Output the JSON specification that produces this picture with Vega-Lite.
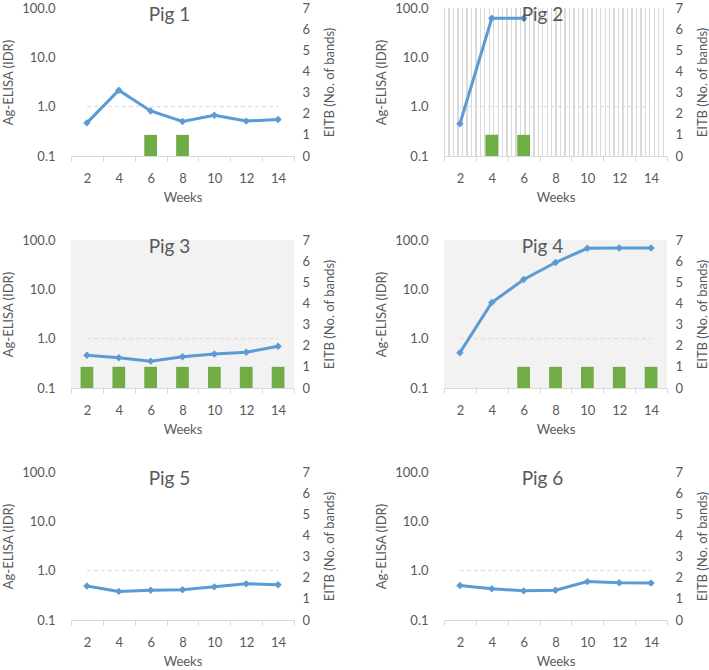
{
"$schema":"https://vega.github.io/schema/vega-lite/v6.json",
"padding":{"left":2,"top":2,"right":0,"bottom":0},
"datasets":{"pigs":[
{"pig":"Pig 1","week":2,"elisa":0.47,"eitb":0,"cutoff":1},
{"pig":"Pig 1","week":4,"elisa":2.15,"eitb":0,"cutoff":1},
{"pig":"Pig 1","week":6,"elisa":0.82,"eitb":1,"cutoff":1},
{"pig":"Pig 1","week":8,"elisa":0.50,"eitb":1,"cutoff":1},
{"pig":"Pig 1","week":10,"elisa":0.67,"eitb":0,"cutoff":1},
{"pig":"Pig 1","week":12,"elisa":0.51,"eitb":0,"cutoff":1},
{"pig":"Pig 1","week":14,"elisa":0.55,"eitb":0,"cutoff":1},
{"pig":"Pig 2","week":2,"elisa":0.45,"eitb":0,"cutoff":1},
{"pig":"Pig 2","week":4,"elisa":62,"eitb":1,"cutoff":1},
{"pig":"Pig 2","week":6,"elisa":62,"eitb":1,"cutoff":1},
{"pig":"Pig 2","week":8,"elisa":null,"eitb":0,"cutoff":1},
{"pig":"Pig 2","week":10,"elisa":null,"eitb":0,"cutoff":1},
{"pig":"Pig 2","week":12,"elisa":null,"eitb":0,"cutoff":1},
{"pig":"Pig 2","week":14,"elisa":null,"eitb":0,"cutoff":1},
{"pig":"Pig 3","week":2,"elisa":0.46,"eitb":1,"cutoff":1},
{"pig":"Pig 3","week":4,"elisa":0.41,"eitb":1,"cutoff":1},
{"pig":"Pig 3","week":6,"elisa":0.35,"eitb":1,"cutoff":1},
{"pig":"Pig 3","week":8,"elisa":0.43,"eitb":1,"cutoff":1},
{"pig":"Pig 3","week":10,"elisa":0.49,"eitb":1,"cutoff":1},
{"pig":"Pig 3","week":12,"elisa":0.53,"eitb":1,"cutoff":1},
{"pig":"Pig 3","week":14,"elisa":0.70,"eitb":1,"cutoff":1},
{"pig":"Pig 4","week":2,"elisa":0.52,"eitb":0,"cutoff":1},
{"pig":"Pig 4","week":4,"elisa":5.4,"eitb":0,"cutoff":1},
{"pig":"Pig 4","week":6,"elisa":15.8,"eitb":1,"cutoff":1},
{"pig":"Pig 4","week":8,"elisa":35,"eitb":1,"cutoff":1},
{"pig":"Pig 4","week":10,"elisa":68,"eitb":1,"cutoff":1},
{"pig":"Pig 4","week":12,"elisa":69,"eitb":1,"cutoff":1},
{"pig":"Pig 4","week":14,"elisa":69,"eitb":1,"cutoff":1},
{"pig":"Pig 5","week":2,"elisa":0.49,"eitb":0,"cutoff":1},
{"pig":"Pig 5","week":4,"elisa":0.38,"eitb":0,"cutoff":1},
{"pig":"Pig 5","week":6,"elisa":0.40,"eitb":0,"cutoff":1},
{"pig":"Pig 5","week":8,"elisa":0.41,"eitb":0,"cutoff":1},
{"pig":"Pig 5","week":10,"elisa":0.47,"eitb":0,"cutoff":1},
{"pig":"Pig 5","week":12,"elisa":0.54,"eitb":0,"cutoff":1},
{"pig":"Pig 5","week":14,"elisa":0.52,"eitb":0,"cutoff":1},
{"pig":"Pig 6","week":2,"elisa":0.50,"eitb":0,"cutoff":1},
{"pig":"Pig 6","week":4,"elisa":0.43,"eitb":0,"cutoff":1},
{"pig":"Pig 6","week":6,"elisa":0.39,"eitb":0,"cutoff":1},
{"pig":"Pig 6","week":8,"elisa":0.40,"eitb":0,"cutoff":1},
{"pig":"Pig 6","week":10,"elisa":0.60,"eitb":0,"cutoff":1},
{"pig":"Pig 6","week":12,"elisa":0.57,"eitb":0,"cutoff":1},
{"pig":"Pig 6","week":14,"elisa":0.56,"eitb":0,"cutoff":1}
]},
"data":{"name":"pigs"},
"columns":2,
"bounds":"flush",
"spacing":{"row":84,"column":150},
"concat":[
{"width":223,"height":148,
"title":{"text":"Pig 1"},
"transform":[{"filter":"datum.pig == 'Pig 1'"}],
"encoding":{"x":{"field":"week","type":"ordinal","scale":{"type":"band","paddingInner":0,"paddingOuter":0},"axis":{"title":"Weeks"}}},
"layer":[
{"mark":{"type":"bar","color":"#70ad47","width":{"band":0.4}},"encoding":{"y":{"field":"eitb","type":"quantitative","scale":{"domain":[0,7],"nice":false},"axis":{"orient":"right","title":"EITB (No. of bands)","values":[0,1,2,3,4,5,6,7],"domain":false,"ticks":false,"labelPadding":8,"titlePadding":14,"titleAngle":270,"titleBaseline":"top"}}}},
{"mark":{"type":"line","color":"#d9d9d9","strokeDash":[4,3],"strokeWidth":1},"encoding":{"y":{"field":"cutoff","type":"quantitative","scale":{"type":"log","domain":[0.1,100],"nice":false},"axis":null}}},
{"mark":{"type":"line","color":"#5b9bd5","strokeWidth":3,"point":{"shape":"diamond","size":55,"filled":true,"color":"#5b9bd5"}},"encoding":{"y":{"field":"elisa","type":"quantitative","scale":{"type":"log","domain":[0.1,100],"nice":false},"axis":{"orient":"left","title":"Ag-ELISA (IDR)","values":[0.1,1,10,100],"format":".1f","domain":false,"ticks":false,"labelPadding":16,"titlePadding":6}}}}
],
"resolve":{"scale":{"y":"independent"},"axis":{"y":"independent"}}},
{"width":223,"height":148,
"view":{"fill":{"gradient":"linear","x1":0,"y1":0,"x2":1,"y2":0,"stops":[
{"offset":0,"color":"#dadada"},{"offset":0.006,"color":"#dadada"},{"offset":0.006,"color":"#fff"},{"offset":0.02,"color":"#fff"},
{"offset":0.02,"color":"#dadada"},{"offset":0.026,"color":"#dadada"},{"offset":0.026,"color":"#fff"},{"offset":0.04,"color":"#fff"},
{"offset":0.04,"color":"#dadada"},{"offset":0.046,"color":"#dadada"},{"offset":0.046,"color":"#fff"},{"offset":0.06,"color":"#fff"},
{"offset":0.06,"color":"#dadada"},{"offset":0.066,"color":"#dadada"},{"offset":0.066,"color":"#fff"},{"offset":0.08,"color":"#fff"},
{"offset":0.08,"color":"#dadada"},{"offset":0.086,"color":"#dadada"},{"offset":0.086,"color":"#fff"},{"offset":0.10,"color":"#fff"},
{"offset":0.10,"color":"#dadada"},{"offset":0.106,"color":"#dadada"},{"offset":0.106,"color":"#fff"},{"offset":0.12,"color":"#fff"},
{"offset":0.12,"color":"#dadada"},{"offset":0.126,"color":"#dadada"},{"offset":0.126,"color":"#fff"},{"offset":0.14,"color":"#fff"},
{"offset":0.14,"color":"#dadada"},{"offset":0.146,"color":"#dadada"},{"offset":0.146,"color":"#fff"},{"offset":0.16,"color":"#fff"},
{"offset":0.16,"color":"#dadada"},{"offset":0.166,"color":"#dadada"},{"offset":0.166,"color":"#fff"},{"offset":0.18,"color":"#fff"},
{"offset":0.18,"color":"#dadada"},{"offset":0.186,"color":"#dadada"},{"offset":0.186,"color":"#fff"},{"offset":0.20,"color":"#fff"},
{"offset":0.20,"color":"#dadada"},{"offset":0.206,"color":"#dadada"},{"offset":0.206,"color":"#fff"},{"offset":0.22,"color":"#fff"},
{"offset":0.22,"color":"#dadada"},{"offset":0.226,"color":"#dadada"},{"offset":0.226,"color":"#fff"},{"offset":0.24,"color":"#fff"},
{"offset":0.24,"color":"#dadada"},{"offset":0.246,"color":"#dadada"},{"offset":0.246,"color":"#fff"},{"offset":0.26,"color":"#fff"},
{"offset":0.26,"color":"#dadada"},{"offset":0.266,"color":"#dadada"},{"offset":0.266,"color":"#fff"},{"offset":0.28,"color":"#fff"},
{"offset":0.28,"color":"#dadada"},{"offset":0.286,"color":"#dadada"},{"offset":0.286,"color":"#fff"},{"offset":0.30,"color":"#fff"},
{"offset":0.30,"color":"#dadada"},{"offset":0.306,"color":"#dadada"},{"offset":0.306,"color":"#fff"},{"offset":0.32,"color":"#fff"},
{"offset":0.32,"color":"#dadada"},{"offset":0.326,"color":"#dadada"},{"offset":0.326,"color":"#fff"},{"offset":0.34,"color":"#fff"},
{"offset":0.34,"color":"#dadada"},{"offset":0.346,"color":"#dadada"},{"offset":0.346,"color":"#fff"},{"offset":0.36,"color":"#fff"},
{"offset":0.36,"color":"#dadada"},{"offset":0.366,"color":"#dadada"},{"offset":0.366,"color":"#fff"},{"offset":0.38,"color":"#fff"},
{"offset":0.38,"color":"#dadada"},{"offset":0.386,"color":"#dadada"},{"offset":0.386,"color":"#fff"},{"offset":0.40,"color":"#fff"},
{"offset":0.40,"color":"#dadada"},{"offset":0.406,"color":"#dadada"},{"offset":0.406,"color":"#fff"},{"offset":0.42,"color":"#fff"},
{"offset":0.42,"color":"#dadada"},{"offset":0.426,"color":"#dadada"},{"offset":0.426,"color":"#fff"},{"offset":0.44,"color":"#fff"},
{"offset":0.44,"color":"#dadada"},{"offset":0.446,"color":"#dadada"},{"offset":0.446,"color":"#fff"},{"offset":0.46,"color":"#fff"},
{"offset":0.46,"color":"#dadada"},{"offset":0.466,"color":"#dadada"},{"offset":0.466,"color":"#fff"},{"offset":0.48,"color":"#fff"},
{"offset":0.48,"color":"#dadada"},{"offset":0.486,"color":"#dadada"},{"offset":0.486,"color":"#fff"},{"offset":0.50,"color":"#fff"},
{"offset":0.50,"color":"#dadada"},{"offset":0.506,"color":"#dadada"},{"offset":0.506,"color":"#fff"},{"offset":0.52,"color":"#fff"},
{"offset":0.52,"color":"#dadada"},{"offset":0.526,"color":"#dadada"},{"offset":0.526,"color":"#fff"},{"offset":0.54,"color":"#fff"},
{"offset":0.54,"color":"#dadada"},{"offset":0.546,"color":"#dadada"},{"offset":0.546,"color":"#fff"},{"offset":0.56,"color":"#fff"},
{"offset":0.56,"color":"#dadada"},{"offset":0.566,"color":"#dadada"},{"offset":0.566,"color":"#fff"},{"offset":0.58,"color":"#fff"},
{"offset":0.58,"color":"#dadada"},{"offset":0.586,"color":"#dadada"},{"offset":0.586,"color":"#fff"},{"offset":0.60,"color":"#fff"},
{"offset":0.60,"color":"#dadada"},{"offset":0.606,"color":"#dadada"},{"offset":0.606,"color":"#fff"},{"offset":0.62,"color":"#fff"},
{"offset":0.62,"color":"#dadada"},{"offset":0.626,"color":"#dadada"},{"offset":0.626,"color":"#fff"},{"offset":0.64,"color":"#fff"},
{"offset":0.64,"color":"#dadada"},{"offset":0.646,"color":"#dadada"},{"offset":0.646,"color":"#fff"},{"offset":0.66,"color":"#fff"},
{"offset":0.66,"color":"#dadada"},{"offset":0.666,"color":"#dadada"},{"offset":0.666,"color":"#fff"},{"offset":0.68,"color":"#fff"},
{"offset":0.68,"color":"#dadada"},{"offset":0.686,"color":"#dadada"},{"offset":0.686,"color":"#fff"},{"offset":0.70,"color":"#fff"},
{"offset":0.70,"color":"#dadada"},{"offset":0.706,"color":"#dadada"},{"offset":0.706,"color":"#fff"},{"offset":0.72,"color":"#fff"},
{"offset":0.72,"color":"#dadada"},{"offset":0.726,"color":"#dadada"},{"offset":0.726,"color":"#fff"},{"offset":0.74,"color":"#fff"},
{"offset":0.74,"color":"#dadada"},{"offset":0.746,"color":"#dadada"},{"offset":0.746,"color":"#fff"},{"offset":0.76,"color":"#fff"},
{"offset":0.76,"color":"#dadada"},{"offset":0.766,"color":"#dadada"},{"offset":0.766,"color":"#fff"},{"offset":0.78,"color":"#fff"},
{"offset":0.78,"color":"#dadada"},{"offset":0.786,"color":"#dadada"},{"offset":0.786,"color":"#fff"},{"offset":0.80,"color":"#fff"},
{"offset":0.80,"color":"#dadada"},{"offset":0.806,"color":"#dadada"},{"offset":0.806,"color":"#fff"},{"offset":0.82,"color":"#fff"},
{"offset":0.82,"color":"#dadada"},{"offset":0.826,"color":"#dadada"},{"offset":0.826,"color":"#fff"},{"offset":0.84,"color":"#fff"},
{"offset":0.84,"color":"#dadada"},{"offset":0.846,"color":"#dadada"},{"offset":0.846,"color":"#fff"},{"offset":0.86,"color":"#fff"},
{"offset":0.86,"color":"#dadada"},{"offset":0.866,"color":"#dadada"},{"offset":0.866,"color":"#fff"},{"offset":0.88,"color":"#fff"},
{"offset":0.88,"color":"#dadada"},{"offset":0.886,"color":"#dadada"},{"offset":0.886,"color":"#fff"},{"offset":0.90,"color":"#fff"},
{"offset":0.90,"color":"#dadada"},{"offset":0.906,"color":"#dadada"},{"offset":0.906,"color":"#fff"},{"offset":0.92,"color":"#fff"},
{"offset":0.92,"color":"#dadada"},{"offset":0.926,"color":"#dadada"},{"offset":0.926,"color":"#fff"},{"offset":0.94,"color":"#fff"},
{"offset":0.94,"color":"#dadada"},{"offset":0.946,"color":"#dadada"},{"offset":0.946,"color":"#fff"},{"offset":0.96,"color":"#fff"},
{"offset":0.96,"color":"#dadada"},{"offset":0.966,"color":"#dadada"},{"offset":0.966,"color":"#fff"},{"offset":0.98,"color":"#fff"},
{"offset":0.98,"color":"#dadada"},{"offset":0.986,"color":"#dadada"},{"offset":0.986,"color":"#fff"},{"offset":1,"color":"#fff"}
]}},
"title":{"text":"Pig 2"},
"transform":[{"filter":"datum.pig == 'Pig 2'"}],
"encoding":{"x":{"field":"week","type":"ordinal","scale":{"type":"band","paddingInner":0,"paddingOuter":0},"axis":{"title":"Weeks"}}},
"layer":[
{"mark":{"type":"bar","color":"#70ad47","width":{"band":0.4}},"encoding":{"y":{"field":"eitb","type":"quantitative","scale":{"domain":[0,7],"nice":false},"axis":{"orient":"right","title":"EITB (No. of bands)","values":[0,1,2,3,4,5,6,7],"domain":false,"ticks":false,"labelPadding":8,"titlePadding":14,"titleAngle":270,"titleBaseline":"top"}}}},
{"mark":{"type":"line","color":"#d9d9d9","strokeDash":[4,3],"strokeWidth":1},"encoding":{"y":{"field":"cutoff","type":"quantitative","scale":{"type":"log","domain":[0.1,100],"nice":false},"axis":null}}},
{"mark":{"type":"line","color":"#5b9bd5","strokeWidth":3,"point":{"shape":"diamond","size":55,"filled":true,"color":"#5b9bd5"}},"encoding":{"y":{"field":"elisa","type":"quantitative","scale":{"type":"log","domain":[0.1,100],"nice":false},"axis":{"orient":"left","title":"Ag-ELISA (IDR)","values":[0.1,1,10,100],"format":".1f","domain":false,"ticks":false,"labelPadding":16,"titlePadding":6}}}}
],
"resolve":{"scale":{"y":"independent"},"axis":{"y":"independent"}}},
{"width":223,"height":148,
"view":{"fill":"#f2f2f2"},
"title":{"text":"Pig 3"},
"transform":[{"filter":"datum.pig == 'Pig 3'"}],
"encoding":{"x":{"field":"week","type":"ordinal","scale":{"type":"band","paddingInner":0,"paddingOuter":0},"axis":{"title":"Weeks"}}},
"layer":[
{"mark":{"type":"bar","color":"#70ad47","width":{"band":0.4}},"encoding":{"y":{"field":"eitb","type":"quantitative","scale":{"domain":[0,7],"nice":false},"axis":{"orient":"right","title":"EITB (No. of bands)","values":[0,1,2,3,4,5,6,7],"domain":false,"ticks":false,"labelPadding":8,"titlePadding":14,"titleAngle":270,"titleBaseline":"top"}}}},
{"mark":{"type":"line","color":"#d9d9d9","strokeDash":[4,3],"strokeWidth":1},"encoding":{"y":{"field":"cutoff","type":"quantitative","scale":{"type":"log","domain":[0.1,100],"nice":false},"axis":null}}},
{"mark":{"type":"line","color":"#5b9bd5","strokeWidth":3,"point":{"shape":"diamond","size":55,"filled":true,"color":"#5b9bd5"}},"encoding":{"y":{"field":"elisa","type":"quantitative","scale":{"type":"log","domain":[0.1,100],"nice":false},"axis":{"orient":"left","title":"Ag-ELISA (IDR)","values":[0.1,1,10,100],"format":".1f","domain":false,"ticks":false,"labelPadding":16,"titlePadding":6}}}}
],
"resolve":{"scale":{"y":"independent"},"axis":{"y":"independent"}}},
{"width":223,"height":148,
"view":{"fill":"#f2f2f2"},
"title":{"text":"Pig 4"},
"transform":[{"filter":"datum.pig == 'Pig 4'"}],
"encoding":{"x":{"field":"week","type":"ordinal","scale":{"type":"band","paddingInner":0,"paddingOuter":0},"axis":{"title":"Weeks"}}},
"layer":[
{"mark":{"type":"bar","color":"#70ad47","width":{"band":0.4}},"encoding":{"y":{"field":"eitb","type":"quantitative","scale":{"domain":[0,7],"nice":false},"axis":{"orient":"right","title":"EITB (No. of bands)","values":[0,1,2,3,4,5,6,7],"domain":false,"ticks":false,"labelPadding":8,"titlePadding":14,"titleAngle":270,"titleBaseline":"top"}}}},
{"mark":{"type":"line","color":"#d9d9d9","strokeDash":[4,3],"strokeWidth":1},"encoding":{"y":{"field":"cutoff","type":"quantitative","scale":{"type":"log","domain":[0.1,100],"nice":false},"axis":null}}},
{"mark":{"type":"line","color":"#5b9bd5","strokeWidth":3,"point":{"shape":"diamond","size":55,"filled":true,"color":"#5b9bd5"}},"encoding":{"y":{"field":"elisa","type":"quantitative","scale":{"type":"log","domain":[0.1,100],"nice":false},"axis":{"orient":"left","title":"Ag-ELISA (IDR)","values":[0.1,1,10,100],"format":".1f","domain":false,"ticks":false,"labelPadding":16,"titlePadding":6}}}}
],
"resolve":{"scale":{"y":"independent"},"axis":{"y":"independent"}}},
{"width":223,"height":148,
"title":{"text":"Pig 5"},
"transform":[{"filter":"datum.pig == 'Pig 5'"}],
"encoding":{"x":{"field":"week","type":"ordinal","scale":{"type":"band","paddingInner":0,"paddingOuter":0},"axis":{"title":"Weeks"}}},
"layer":[
{"mark":{"type":"bar","color":"#70ad47","width":{"band":0.4}},"encoding":{"y":{"field":"eitb","type":"quantitative","scale":{"domain":[0,7],"nice":false},"axis":{"orient":"right","title":"EITB (No. of bands)","values":[0,1,2,3,4,5,6,7],"domain":false,"ticks":false,"labelPadding":8,"titlePadding":14,"titleAngle":270,"titleBaseline":"top"}}}},
{"mark":{"type":"line","color":"#d9d9d9","strokeDash":[4,3],"strokeWidth":1},"encoding":{"y":{"field":"cutoff","type":"quantitative","scale":{"type":"log","domain":[0.1,100],"nice":false},"axis":null}}},
{"mark":{"type":"line","color":"#5b9bd5","strokeWidth":3,"point":{"shape":"diamond","size":55,"filled":true,"color":"#5b9bd5"}},"encoding":{"y":{"field":"elisa","type":"quantitative","scale":{"type":"log","domain":[0.1,100],"nice":false},"axis":{"orient":"left","title":"Ag-ELISA (IDR)","values":[0.1,1,10,100],"format":".1f","domain":false,"ticks":false,"labelPadding":16,"titlePadding":6}}}}
],
"resolve":{"scale":{"y":"independent"},"axis":{"y":"independent"}}},
{"width":223,"height":148,
"title":{"text":"Pig 6"},
"transform":[{"filter":"datum.pig == 'Pig 6'"}],
"encoding":{"x":{"field":"week","type":"ordinal","scale":{"type":"band","paddingInner":0,"paddingOuter":0},"axis":{"title":"Weeks"}}},
"layer":[
{"mark":{"type":"bar","color":"#70ad47","width":{"band":0.4}},"encoding":{"y":{"field":"eitb","type":"quantitative","scale":{"domain":[0,7],"nice":false},"axis":{"orient":"right","title":"EITB (No. of bands)","values":[0,1,2,3,4,5,6,7],"domain":false,"ticks":false,"labelPadding":8,"titlePadding":14,"titleAngle":270,"titleBaseline":"top"}}}},
{"mark":{"type":"line","color":"#d9d9d9","strokeDash":[4,3],"strokeWidth":1},"encoding":{"y":{"field":"cutoff","type":"quantitative","scale":{"type":"log","domain":[0.1,100],"nice":false},"axis":null}}},
{"mark":{"type":"line","color":"#5b9bd5","strokeWidth":3,"point":{"shape":"diamond","size":55,"filled":true,"color":"#5b9bd5"}},"encoding":{"y":{"field":"elisa","type":"quantitative","scale":{"type":"log","domain":[0.1,100],"nice":false},"axis":{"orient":"left","title":"Ag-ELISA (IDR)","values":[0.1,1,10,100],"format":".1f","domain":false,"ticks":false,"labelPadding":16,"titlePadding":6}}}}
],
"resolve":{"scale":{"y":"independent"},"axis":{"y":"independent"}}}
],
"config":{
"font":"Lato",
"view":{"stroke":null},
"axis":{"labelColor":"#595959","titleColor":"#595959","labelFontSize":13,"titleFontSize":13,"titleFontWeight":"normal","grid":false},
"axisX":{"labelAngle":0,"tickBand":"extent","domainColor":"#d9d9d9","tickColor":"#d9d9d9","tickSize":5,"labelPadding":11,"titlePadding":6},
"title":{"fontSize":19,"fontWeight":"normal","color":"#595959","anchor":"middle","frame":"group","offset":-13,"baseline":"alphabetic","dx":-13,"dy":10}
}
}
